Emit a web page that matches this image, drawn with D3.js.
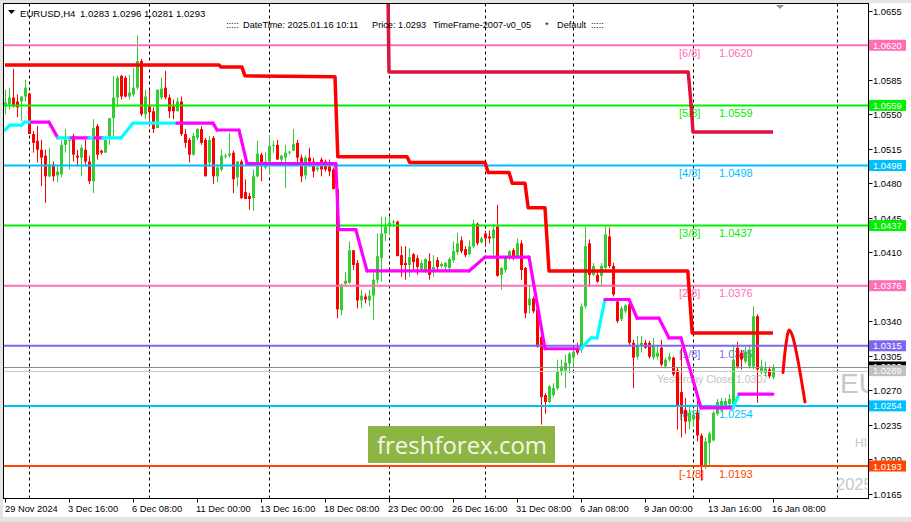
<!DOCTYPE html>
<html><head><meta charset="utf-8">
<script src="https://cdn.jsdelivr.net/npm/d3@7"></script>
<style>
html,body{margin:0;padding:0;background:#fff;}
svg{display:block;}
text{font-family:"Liberation Sans",Arial,sans-serif;}
</style></head><body>
<svg id="c" width="911" height="522"></svg>
<script>
// ---------- DATA ----------
const open  = [1.0558,1.0560,1.0567,1.0563,1.0563,1.0568,1.0571,1.0530,1.0523,1.0514,1.0508,1.0487,1.0499,1.0488,1.0489,1.0519,1.0523,1.0528,1.0508,1.0506,1.0514,1.0502,1.0482,1.0538,1.0513,1.0511,1.0526,1.0546,1.0567,1.0589,1.0587,1.0568,1.0570,1.0577,1.0604,1.0550,1.0558,1.0553,1.0536,1.0567,1.0577,1.0567,1.0558,1.0553,1.0563,1.0530,1.0524,1.0509,1.0526,1.0535,1.0524,1.0501,1.0526,1.0487,1.0494,1.0507,1.0508,1.0511,1.0486,1.0502,1.0471,1.0467,1.0465,1.0487,1.0509,1.0496,1.0502,1.0518,1.0519,1.0504,1.0506,1.0511,1.0513,1.0521,1.0506,1.0488,1.0506,1.0502,1.0494,1.0504,1.0502,1.0497,1.0494,1.0474,1.0351,1.0378,1.0379,1.0412,1.0399,1.0361,1.0365,1.0361,1.0366,1.0382,1.0404,1.0429,1.0437,1.0440,1.0441,1.0407,1.0399,1.0397,1.0408,1.0404,1.0393,1.0392,1.0401,1.0392,1.0402,1.0396,1.0395,1.0394,1.0402,1.0410,1.0422,1.0413,1.0408,1.0416,1.0439,1.0420,1.0429,1.0426,1.0424,1.0436,1.0387,1.0392,1.0404,1.0412,1.0405,1.0419,1.0394,1.0356,1.0363,1.0352,1.0324,1.0265,1.0258,1.0265,1.0272,1.0289,1.0290,1.0297,1.0303,1.0311,1.0311,1.0355,1.0419,1.0387,1.0387,1.0386,1.0394,1.0426,1.0396,1.0360,1.0342,1.0350,1.0357,1.0318,1.0304,1.0315,1.0318,1.0318,1.0303,1.0304,1.0313,1.0294,1.0301,1.0303,1.0290,1.0268,1.0250,1.0238,1.0240,1.0247,1.0224,1.0193,1.0216,1.0219,1.0246,1.0250,1.0254,1.0256,1.0256,1.0313,1.0308,1.0299,1.0294,1.0294,1.0345,1.0288,1.0287,1.0291,1.0283];
const high  = [1.0575,1.0577,1.0596,1.0570,1.0568,1.0585,1.0572,1.0533,1.0538,1.0524,1.0514,1.0516,1.0502,1.0497,1.0524,1.0535,1.0528,1.0530,1.0514,1.0519,1.0524,1.0508,1.0545,1.0540,1.0514,1.0526,1.0546,1.0589,1.0589,1.0590,1.0589,1.0590,1.0597,1.0630,1.0606,1.0575,1.0575,1.0557,1.0575,1.0587,1.0594,1.0570,1.0565,1.0567,1.0568,1.0535,1.0526,1.0531,1.0536,1.0538,1.0526,1.0528,1.0528,1.0499,1.0514,1.0510,1.0531,1.0513,1.0502,1.0504,1.0484,1.0470,1.0494,1.0523,1.0511,1.0511,1.0528,1.0523,1.0524,1.0509,1.0519,1.0513,1.0535,1.0524,1.0509,1.0508,1.0516,1.0506,1.0497,1.0506,1.0504,1.0504,1.0496,1.0476,1.0378,1.0390,1.0421,1.0412,1.0402,1.0372,1.0368,1.0372,1.0389,1.0429,1.0446,1.0446,1.0446,1.0443,1.0442,1.0416,1.0416,1.0414,1.0409,1.0407,1.0402,1.0404,1.0409,1.0407,1.0405,1.0400,1.0400,1.0405,1.0421,1.0430,1.0426,1.0416,1.0422,1.0443,1.0440,1.0426,1.0432,1.0432,1.0439,1.0458,1.0395,1.0405,1.0412,1.0414,1.0424,1.0422,1.0395,1.0375,1.0365,1.0355,1.0326,1.0267,1.0275,1.0277,1.0301,1.0301,1.0306,1.0309,1.0311,1.0318,1.0358,1.0436,1.0423,1.0399,1.0392,1.0399,1.0436,1.0435,1.0399,1.0362,1.0355,1.0357,1.0360,1.0321,1.0325,1.0325,1.0321,1.0320,1.0323,1.0315,1.0321,1.0303,1.0308,1.0304,1.0293,1.0313,1.0262,1.0255,1.0250,1.0262,1.0226,1.0222,1.0228,1.0249,1.0261,1.0262,1.0262,1.0266,1.0316,1.0319,1.0311,1.0314,1.0316,1.0355,1.0347,1.0301,1.0299,1.0294,1.0296];
const low   = [1.0550,1.0555,1.0557,1.0547,1.0543,1.0563,1.0530,1.0511,1.0501,1.0477,1.0460,1.0486,1.0482,1.0481,1.0486,1.0511,1.0494,1.0502,1.0497,1.0487,1.0497,1.0479,1.0470,1.0504,1.0509,1.0511,1.0519,1.0526,1.0557,1.0565,1.0567,1.0565,1.0568,1.0575,1.0548,1.0545,1.0538,1.0531,1.0536,1.0565,1.0565,1.0546,1.0545,1.0553,1.0528,1.0516,1.0501,1.0508,1.0524,1.0519,1.0487,1.0497,1.0479,1.0481,1.0492,1.0505,1.0506,1.0470,1.0477,1.0464,1.0464,1.0453,1.0452,1.0486,1.0482,1.0494,1.0489,1.0511,1.0504,1.0501,1.0475,1.0509,1.0513,1.0501,1.0481,1.0484,1.0497,1.0486,1.0492,1.0487,1.0492,1.0487,1.0474,1.0343,1.0346,1.0377,1.0378,1.0392,1.0353,1.0353,1.0358,1.0355,1.0341,1.0378,1.0380,1.0421,1.0427,1.0436,1.0406,1.0385,1.0382,1.0385,1.0392,1.0387,1.0390,1.0389,1.0382,1.0385,1.0390,1.0394,1.0392,1.0390,1.0399,1.0407,1.0409,1.0405,1.0407,1.0414,1.0417,1.0419,1.0417,1.0419,1.0407,1.0385,1.0372,1.0389,1.0402,1.0402,1.0404,1.0382,1.0343,1.0348,1.0348,1.0313,1.0235,1.0246,1.0257,1.0263,1.0270,1.0285,1.0272,1.0287,1.0294,1.0306,1.0308,1.0353,1.0375,1.0386,1.0379,1.0375,1.0392,1.0394,1.0365,1.0338,1.0340,1.0348,1.0315,1.0272,1.0301,1.0308,1.0312,1.0302,1.0301,1.0301,1.0294,1.0292,1.0299,1.0284,1.0230,1.0222,1.0226,1.0230,1.0233,1.0218,1.0178,1.0190,1.0193,1.0218,1.0244,1.0248,1.0252,1.0253,1.0254,1.0292,1.0291,1.0297,1.0292,1.0291,1.0257,1.0286,1.0284,1.0282,1.0281];
const close = [1.0562,1.0567,1.0558,1.0557,1.0568,1.0577,1.0530,1.0521,1.0514,1.0506,1.0487,1.0499,1.0487,1.0492,1.0519,1.0524,1.0524,1.0509,1.0506,1.0516,1.0502,1.0482,1.0536,1.0509,1.0511,1.0524,1.0546,1.0567,1.0587,1.0568,1.0568,1.0572,1.0577,1.0604,1.0550,1.0568,1.0552,1.0535,1.0575,1.0576,1.0567,1.0553,1.0553,1.0563,1.0530,1.0521,1.0509,1.0528,1.0535,1.0521,1.0487,1.0524,1.0487,1.0496,1.0508,1.0508,1.0510,1.0484,1.0502,1.0465,1.0464,1.0464,1.0487,1.0510,1.0501,1.0502,1.0518,1.0519,1.0504,1.0508,1.0511,1.0512,1.0520,1.0506,1.0487,1.0506,1.0502,1.0492,1.0496,1.0494,1.0494,1.0492,1.0474,1.0352,1.0377,1.0381,1.0412,1.0397,1.0361,1.0366,1.0362,1.0366,1.0382,1.0406,1.0429,1.0436,1.0440,1.0441,1.0406,1.0397,1.0397,1.0405,1.0400,1.0395,1.0399,1.0403,1.0387,1.0395,1.0395,1.0398,1.0399,1.0403,1.0411,1.0419,1.0411,1.0407,1.0416,1.0439,1.0419,1.0424,1.0424,1.0424,1.0433,1.0386,1.0394,1.0404,1.0411,1.0405,1.0419,1.0392,1.0348,1.0363,1.0350,1.0314,1.0263,1.0258,1.0274,1.0272,1.0289,1.0294,1.0298,1.0307,1.0309,1.0308,1.0355,1.0416,1.0387,1.0396,1.0380,1.0396,1.0428,1.0396,1.0367,1.0340,1.0353,1.0356,1.0318,1.0303,1.0316,1.0318,1.0313,1.0304,1.0316,1.0308,1.0296,1.0301,1.0304,1.0286,1.0254,1.0246,1.0238,1.0247,1.0245,1.0224,1.0193,1.0218,1.0226,1.0247,1.0258,1.0259,1.0259,1.0261,1.0301,1.0294,1.0301,1.0309,1.0311,1.0345,1.0291,1.0294,1.0292,1.0284,1.0293];

// time axis: bar index of each label and its text
const timeTickBars   = [0,16,32,48,64,80,96,112,128,144,160,176,192];
const timeTickLabels = ["29 Nov 2024","3 Dec 16:00","6 Dec 08:00","11 Dec 00:00","13 Dec 16:00","18 Dec 08:00","23 Dec 00:00","26 Dec 16:00","31 Dec 08:00","6 Jan 08:00","9 Jan 00:00","13 Jan 16:00","16 Jan 08:00"];
// week separators (bar index)
const separatorBars = [6,36,66,96,120,142,172,208];
// price axis ticks
const priceTicks = [1.0655,1.0620,1.0585,1.0550,1.0515,1.0480,1.0445,1.0410,1.0375,1.0340,1.0305,1.0270,1.0235,1.0200,1.0165];

// Murrey math levels
const levelNames  = ["[6/8]","[5/8]","[4/8]","[3/8]","[2/8]","[1/8]","[0/8]","[-1/8]"];
const levelPrices = [1.0620,1.0559,1.0498,1.0437,1.0376,1.0315,1.0254,1.0193];
const levelColors = ["#ff6eb4","#00f000","#00bfff","#00f000","#ff6eb4","#7b68ee","#00bfff","#ff4500"];

const bidPrice = 1.0293;
const yesterdayClose = 1.0289;
const yesterdayCloseText = "Yesterday Close 1.0307";

// trailing line: [bar, price, segment colour flag c=up m=down]
const trailPoints = [[0,1.0534,'c'],[1.2,1.0539,'c'],[4.2,1.0539,'c'],[4.8,1.0542,'c'],[6.7,1.0542,'m'],[11,1.0542,'m'],[13.2,1.0526,'c'],[16.6,1.0526,'m'],[21,1.0526,'c'],[22.4,1.0526,'m'],[24.5,1.0526,'c'],[29,1.0526,'c'],[32,1.0541,'c'],[43,1.0541,'m'],[52,1.0541,'m'],[53,1.0534,'m'],[58.5,1.0534,'m'],[60.5,1.0500,'m'],[82.7,1.0500,'m'],[83.4,1.0433,'m'],[87.7,1.0433,'m'],[90.5,1.0391,'m'],[116,1.0391,'m'],[120,1.0405,'m'],[131,1.0405,'m'],[135,1.0312,'m'],[144,1.0312,'c'],[146.5,1.0323,'c'],[148,1.0323,'c'],[150,1.0362,'m'],[156,1.0362,'m'],[158,1.0343,'m'],[163.5,1.0343,'m'],[166,1.0323,'m'],[169,1.0323,'m'],[174,1.0252,'m'],[182,1.0252,'c'],[183.5,1.0266,'m'],[192,1.0266,'m']];
// lower red step line [bar, price]
const redLine = [[0,1.0600],[53.5,1.0600],[54,1.0598],[59.2,1.0598],[60,1.0589],[82.5,1.0588],[83.2,1.0507],[100.5,1.0507],[101.2,1.0501],[120,1.0501],[120.8,1.0491],[126,1.0491],[126.8,1.0480],[130,1.0480],[130.8,1.0455],[135,1.0455],[136,1.0391],[170.7,1.0391],[171.8,1.0328],[192,1.0328]];
// upper crimson step line [bar, price]
const crimsonLine = [[95.7,1.0690],[96,1.0593],[170.8,1.0593],[171.2,1.0575],[171.6,1.0555],[172,1.0532],[192,1.0532]];
// forecast arc [bar, price]
const forecast = [[194.5,1.0288],[195.3,1.0318],[196,1.0331],[196.7,1.0327],[200,1.0258]];

// ---------- DRAW ----------
const svg = d3.select('#c');
const X0=3.5, Y0=3.5, X1=868.5, Y1=498.5;
const x = d3.scaleLinear().domain([0,1]).range([5,9]);
const y = d3.scaleLinear().domain([1.0165,1.0655]).range([493.6,10.8]);
const bull="#32cd32", bear="#ff0000";

svg.append('rect').attr('width',911).attr('height',522).attr('fill','#e4e4e4');
svg.append('rect').attr('x',3).attr('y',3).attr('width',908).attr('height',514).attr('fill','#fff');
svg.append('defs').append('clipPath').attr('id','plot').append('rect')
  .attr('x',X0).attr('y',Y0).attr('width',X1-X0).attr('height',Y1-Y0);
const g = svg.append('g').attr('clip-path','url(#plot)');

// separators
g.selectAll('line.sep').data(separatorBars).join('line')
  .attr('x1',d=>x(d)+0.5).attr('x2',d=>x(d)+0.5).attr('y1',Y0).attr('y2',Y1)
  .attr('stroke','#000').attr('stroke-width',1).attr('stroke-dasharray','3,3');

// level labels (under candles)
levelPrices.forEach((p,i)=>{
  g.append('text').attr('x',679).attr('y',y(p)+11.7).attr('font-size',11).attr('fill',levelColors[i]).text(levelNames[i]);
  g.append('text').attr('x',719).attr('y',y(p)+11.7).attr('font-size',11).attr('fill',levelColors[i]).text(p.toFixed(4));
});
g.append('text').attr('x',657).attr('y',382.5).attr('font-size',10.5).attr('fill','#c4c4c4').text(yesterdayCloseText);

// big grey symbol watermark (clipped by the plot edge)
g.append('text').attr('x',840).attr('y',393).attr('font-size',28).attr('fill','#c8c8c8').text('EU');
g.append('text').attr('x',855).attr('y',447).attr('font-size',12).attr('fill','#c8c8c8').text('HI');
g.append('text').attr('x',836).attr('y',490).attr('font-size',16.5).attr('fill','#c8c8c8').text('2025');

// candles
const idx = d3.range(open.length);
g.selectAll('line.wick').data(idx).join('line')
  .attr('x1',i=>x(i)+0.5).attr('x2',i=>x(i)+0.5)
  .attr('y1',i=>y(high[i])).attr('y2',i=>y(low[i]))
  .attr('stroke',i=>close[i]>=open[i]?bull:bear).attr('stroke-width',1);
g.selectAll('rect.body').data(idx).join('rect')
  .attr('x',i=>x(i)-1).attr('width',3)
  .attr('y',i=>y(Math.max(open[i],close[i])))
  .attr('height',i=>Math.max(1,Math.abs(y(open[i])-y(close[i]))))
  .attr('fill',i=>close[i]>=open[i]?bull:bear);

// level lines
g.selectAll('line.lvl').data(levelPrices).join('line')
  .attr('x1',X0).attr('x2',X1).attr('y1',d=>y(d)).attr('y2',d=>y(d))
  .attr('stroke',(d,i)=>levelColors[i]).attr('stroke-width',2);
g.append('line').attr('x1',X0).attr('x2',X1).attr('y1',Math.round(y(bidPrice))+0.5).attr('y2',Math.round(y(bidPrice))+0.5).attr('stroke','#8c8c8c');
g.append('line').attr('x1',X0).attr('x2',X1).attr('y1',Math.round(y(yesterdayClose))+0.5).attr('y2',Math.round(y(yesterdayClose))+0.5).attr('stroke','#c8c8c8');

// indicator lines
const ln = d3.line().x(d=>x(d[0])).y(d=>y(d[1]));
g.append('path').attr('d',ln(redLine)).attr('fill','none').attr('stroke','#ff0000').attr('stroke-width',3.5).attr('stroke-linejoin','round');
g.append('path').attr('d',ln(crimsonLine)).attr('fill','none').attr('stroke','#dc143c').attr('stroke-width',3.5).attr('stroke-linejoin','round');
for(let i=0;i<trailPoints.length-1;i++){
  const a=trailPoints[i], b=trailPoints[i+1];
  g.append('path').attr('d',ln([a,b])).attr('fill','none')
   .attr('stroke',a[2]==='c'?'#00ffff':'#ff00ff').attr('stroke-width',3.2).attr('stroke-linecap','round');
}
g.append('path').attr('d',d3.line().x(d=>x(d[0])).y(d=>y(d[1])).curve(d3.curveCatmullRom)(forecast))
  .attr('fill','none').attr('stroke','#ff0000').attr('stroke-width',3).attr('stroke-linecap','round');

// shift marker
svg.append('path').attr('d','M776,5 L784,5 L780,9 Z').attr('fill','#8a909c');

// freshforex watermark
svg.append('rect').attr('x',368).attr('y',426).attr('width',187).attr('height',37).attr('fill','#8db543');
svg.append('text').attr('x',377).attr('y',454).attr('font-size',23).attr('fill','#f5f5ea')
  .attr('style','font-family:"Open Sans",sans-serif').attr('textLength',170).attr('lengthAdjust','spacingAndGlyphs').text('freshforex.com');

// frame
svg.append('rect').attr('x',X0).attr('y',Y0).attr('width',X1-X0).attr('height',Y1-Y0).attr('fill','none').attr('stroke','#000');

// price axis (tick labels fully hidden under a level box are not drawn)
const boxed = levelPrices.concat([bidPrice, yesterdayClose]);
priceTicks.forEach(p=>{
  const yy=Math.round(y(p))+0.5;
  svg.append('line').attr('x1',X1).attr('x2',X1+4).attr('y1',yy).attr('y2',yy).attr('stroke','#000');
  if (boxed.some(b=>Math.abs(y(b)-y(p))<3)) return;
  svg.append('text').attr('x',873).attr('y',yy+3.5).attr('font-size',9.4).attr('fill','#000').text(p.toFixed(4));
});
function box(p,col,dy){
  const yy=y(p)+(dy||0);
  svg.append('rect').attr('x',869).attr('y',yy-5.5).attr('width',37).attr('height',11).attr('fill',col);
  svg.append('text').attr('x',873).attr('y',yy+3.5).attr('font-size',9.4).attr('fill','#fff').text(p.toFixed(4));
}
levelPrices.forEach((p,i)=>box(p,levelColors[i]));
box(bidPrice,'#000',-0.5);
box(yesterdayClose,'#c0c0c0',-0.8);

// time axis
timeTickBars.forEach((b,i)=>{
  const xx=x(b)+0.5;
  svg.append('line').attr('x1',xx).attr('x2',xx).attr('y1',Y1).attr('y2',Y1+4).attr('stroke','#000');
  svg.append('text').attr('x',Math.max(5,x(b)-1)).attr('y',512).attr('font-size',9.3).attr('fill','#000').text(timeTickLabels[i]);
});

// header
svg.append('path').attr('d','M8,10 L15,10 L11.5,14 Z').attr('fill','#000');
svg.append('text').attr('x',20).attr('y',17).attr('font-size',9.6).text('EURUSD,H4');
svg.append('text').attr('x',80).attr('y',17).attr('font-size',9.6).text('1.0283 1.0296 1.0281 1.0293');
const h2=[[226,':::::'],[243,'DateTime: 2025.01.16 10:11'],[372,'Price: 1.0293'],[433,'TimeFrame-2007-v0_05'],[545,'*'],[557,'Default'],[591,':::::']];
h2.forEach(d=>svg.append('text').attr('x',d[0]).attr('y',28).attr('font-size',9.2).attr('fill','#000').text(d[1]));
</script>
</body></html>
